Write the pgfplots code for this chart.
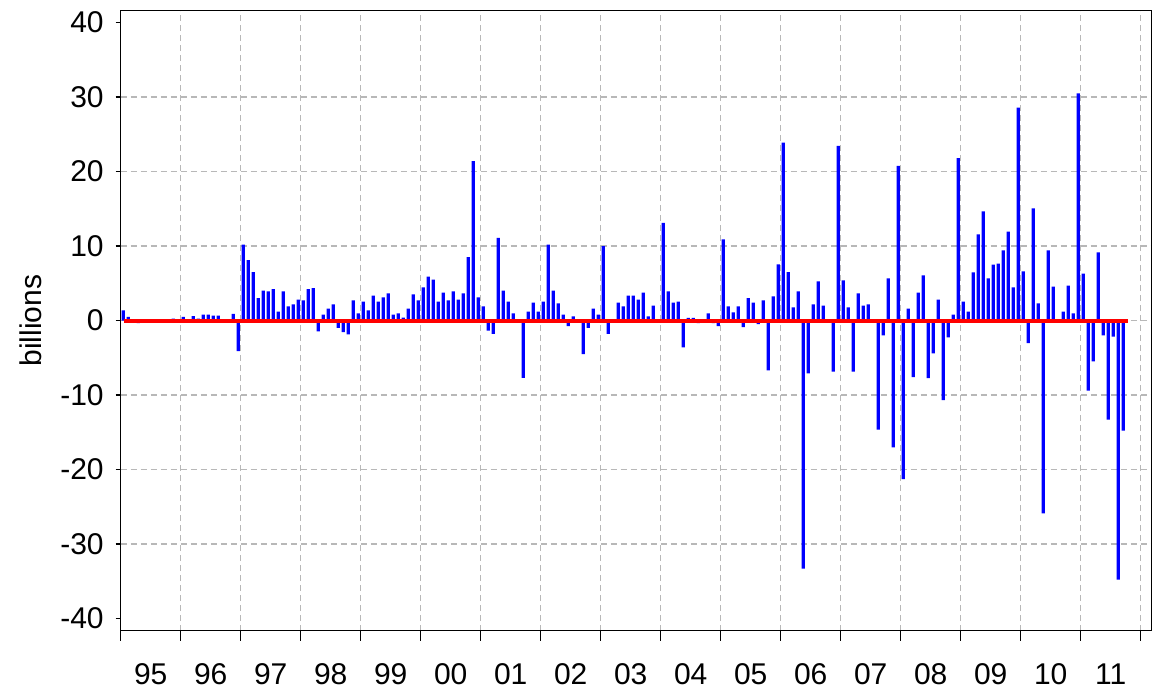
\documentclass[border=0pt]{standalone}
\usepackage{pgfplots}
\pgfplotsset{compat=1.18}
\usepackage{pgfplotstable}
\usepackage{fontspec}
\setmainfont{Liberation Sans}
\pgfplotstableread{
x y
0.5 1.35
1.5 0.5
2.5 0
3.5 -0.35
4.5 -0.3
5.5 -0.3
6.5 0
7.5 0
8.5 0
9.5 0
10.5 0.25
11.5 0
12.5 0.5
13.5 -0.3
14.5 0.6
15.5 0.25
16.5 0.8
17.5 0.8
18.5 0.65
19.5 0.65
20.5 0.2
21.5 0
22.5 0.9
23.5 -4.1
24.5 10.2
25.5 8.1
26.5 6.5
27.5 3.0
28.5 4.0
29.5 3.9
30.5 4.2
31.5 1.2
32.5 3.9
33.5 1.9
34.5 2.15
35.5 2.8
36.5 2.7
37.5 4.2
38.5 4.35
39.5 -1.45
40.5 0.8
41.5 1.6
42.5 2.15
43.5 -1.0
44.5 -1.55
45.5 -1.85
46.5 2.7
47.5 0.95
48.5 2.55
49.5 1.35
50.5 3.35
51.5 2.55
52.5 3.1
53.5 3.65
54.5 0.8
55.5 0.95
56.5 0.4
57.5 1.6
58.5 3.5
59.5 2.7
60.5 4.45
61.5 5.9
62.5 5.5
63.5 2.55
64.5 3.75
65.5 2.7
66.5 3.9
67.5 2.8
68.5 3.65
69.5 8.5
70.5 21.4
71.5 3.1
72.5 1.9
73.5 -1.35
74.5 -1.8
75.5 11.1
76.5 4.0
77.5 2.55
78.5 0.95
79.5 -0.3
80.5 -7.7
81.5 1.2
82.5 2.4
83.5 1.2
84.5 2.55
85.5 10.2
86.5 4.0
87.5 2.3
88.5 0.8
89.5 -0.75
90.5 0.55
91.5 0
92.5 -4.5
93.5 -1.0
94.5 1.6
95.5 0.8
96.5 10.0
97.5 -1.8
98.5 0
99.5 2.4
100.5 1.9
101.5 3.35
102.5 3.35
103.5 2.8
104.5 3.75
105.5 0.55
106.5 2.0
107.5 0.2
108.5 13.1
109.5 3.9
110.5 2.4
111.5 2.55
112.5 -3.6
113.5 0.35
114.5 0.35
115.5 -0.35
116.5 0.2
117.5 0.95
118.5 -0.35
119.5 -0.75
120.5 10.9
121.5 1.9
122.5 1.1
123.5 1.9
124.5 -0.9
125.5 3.0
126.5 2.4
127.5 -0.5
128.5 2.7
129.5 -6.7
130.5 3.25
131.5 7.55
132.5 23.9
133.5 6.5
134.5 1.75
135.5 3.9
136.5 -33.3
137.5 -7.1
138.5 2.15
139.5 5.25
140.5 2.0
141.5 0.2
142.5 -6.85
143.5 23.45
144.5 5.4
145.5 1.75
146.5 -6.85
147.5 3.65
148.5 2.0
149.5 2.15
150.5 0.2
151.5 -14.65
152.5 -2.0
153.5 5.65
154.5 -17.05
155.5 20.75
156.5 -21.3
157.5 1.6
158.5 -7.6
159.5 3.75
160.5 6.05
161.5 -7.75
162.5 -4.4
163.5 2.8
164.5 -10.7
165.5 -2.25
166.5 0.8
167.5 21.8
168.5 2.55
169.5 1.2
170.5 6.45
171.5 11.55
172.5 14.65
173.5 5.65
174.5 7.5
175.5 7.65
176.5 9.4
177.5 11.95
178.5 4.45
179.5 28.6
180.5 6.6
181.5 -3.05
182.5 15.05
183.5 2.3
184.5 -25.9
185.5 9.4
186.5 4.55
187.5 0
188.5 1.2
189.5 4.7
190.5 0.95
191.5 30.5
192.5 6.3
193.5 -9.4
194.5 -5.5
195.5 9.15
196.5 -2.0
197.5 -13.3
198.5 -2.15
199.5 -34.8
200.5 -14.8
}\datatable
\begin{document}
\begin{tikzpicture}
\begin{axis}[
  name=main,
  at={(0,0)}, anchor=south west,
  scale only axis,
  width=515.5pt, height=310pt,
  xmin=0, xmax=206.2,
  ymin=-41.65, ymax=41.6,
  axis line style={line width=0.7pt},
  tick style={black, line width=0.7pt},
  tick align=outside,
  xtick pos=bottom, ytick pos=left,
  major tick length=5pt,
  ytick style={/pgfplots/major tick length=2.5pt},
  xtick={0,12,...,204},
  x tick label as interval,
  xticklabels={95,96,97,98,99,00,01,02,03,04,05,06,07,08,09,10,11},
  xticklabel style={yshift=-8pt},
  ytick={-30,-20,...,30},
  extra y ticks={-40,40},
  extra y tick style={grid=none},
  xmajorgrids, ymajorgrids,
  major grid style={color=black!28, dash pattern=on 3pt off 2pt, line width=0.7pt},
  ticklabel style={font=\fontsize{15}{18}\selectfont},
  /pgf/number format/assume math mode=true,
  clip=false,
]
\addplot[ybar, bar width=0.66, fill=blue, draw=none, bar shift=0pt] table[x=x,y=y] {\datatable};
\addplot[red, line width=2pt, no marks] coordinates {(0.6,0) (201.5,0)};
\node[rotate=90, font=\fontsize{15}{18}\selectfont] at (rel axis cs:-0.087,0.5) {billions};
\end{axis}
\pgfresetboundingbox
\path ([shift={(-60.35pt,-29.65pt)}]main.south west) rectangle ([shift={(4.65pt,5.35pt)}]main.north east);
\end{tikzpicture}
\end{document}
